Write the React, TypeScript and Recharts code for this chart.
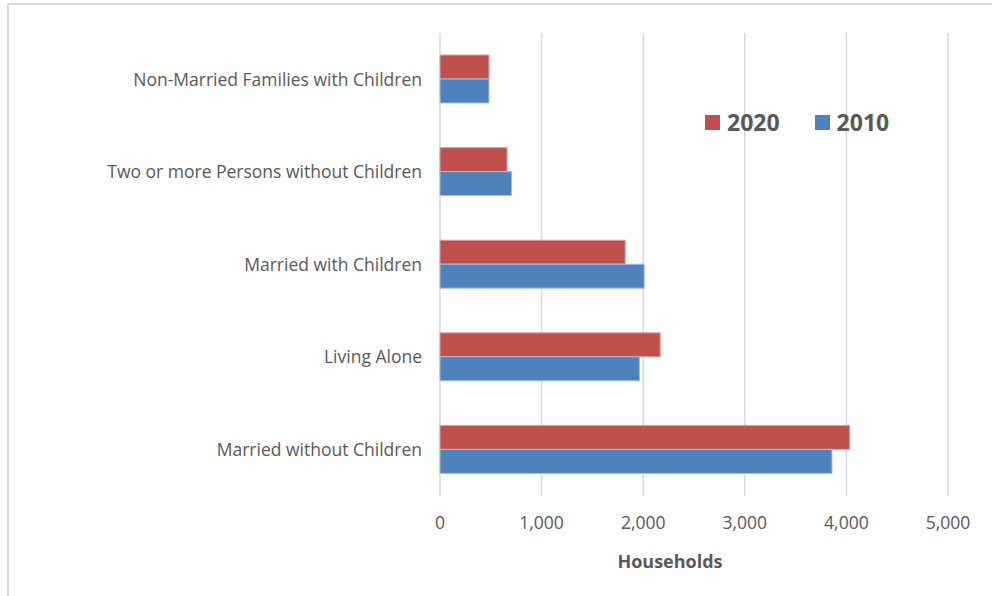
import { BarChart, Bar, XAxis, YAxis, CartesianGrid } from 'recharts'

const categories = [
  'Non-Married Families with Children',
  'Two or more Persons without Children',
  'Married with Children',
  'Living Alone',
  'Married without Children',
]
const households2020 = [482, 660, 1823, 2168, 4032]
const households2010 = [482, 705, 2010, 1964, 3858]
const xTicks = [0, 1000, 2000, 3000, 4000, 5000]

const series = [
  { key: 'y2020', label: '2020', color: '#C0504D', edge: '#dfa3a1' },
  { key: 'y2010', label: '2010', color: '#4F81BD', edge: '#a3bfe0' },
]

const data = categories.map((name, i) => ({
  name,
  y2020: households2020[i],
  y2010: households2010[i],
}))

const FONT = '"Open Sans", sans-serif'
const TEXT = '#595959'

export default function App() {
  return (
    <div style={{ position: 'absolute', left: 0, top: 0, width: 992, height: 596, background: '#fff', fontFamily: FONT, overflow: 'hidden' }}>
      <div
        style={{
          position: 'absolute',
          left: 7,
          top: 3,
          width: 1000,
          height: 620,
          border: '2px solid #d9d9d9',
        }}
      />
      <BarChart
        width={992}
        height={596}
        data={data}
        layout="vertical"
        margin={{ top: 33, right: 44, bottom: 20, left: 0 }}
        barGap={0}
        barSize={24}
        style={{ position: 'absolute', left: 0, top: 0 }}
      >
        <CartesianGrid horizontal={false} stroke="#d9d9d9" strokeWidth={1.5} />
        <XAxis
          type="number"
          domain={[0, 5000]}
          ticks={xTicks}
          tickFormatter={(v: number) => v.toLocaleString('en-US')}
          axisLine={false}
          tickLine={false}
          height={80}
          tickMargin={15}
          tick={{ fill: TEXT, fontSize: 17.5, fontFamily: FONT }}
          label={{
            value: 'Households',
            position: 'insideBottom',
            offset: 8,
            dx: -24,
            fill: TEXT,
            fontSize: 18,
            fontWeight: 700,
            fontFamily: FONT,
          }}
        />
        <YAxis
          type="category"
          dataKey="name"
          width={440}
          axisLine={false}
          tickLine={false}
          tickMargin={12}
          interval={0}
          tick={{ fill: TEXT, fontSize: 17.5, fontFamily: FONT }}
        />
        {series.map((s) => (
          <Bar
            key={s.key}
            dataKey={s.key}
            name={s.label}
            fill={s.color}
            stroke={s.edge}
            strokeWidth={1}
            isAnimationActive={false}
          />
        ))}
      </BarChart>
      <div style={{ position: 'absolute', left: 705, top: 109, display: 'flex', gap: 35 }}>
        {series.map((s) => (
          <div key={s.key} style={{ display: 'flex', alignItems: 'center', gap: 7 }}>
            <span style={{ width: 15, height: 15, background: s.color, display: 'inline-block' }} />
            <span style={{ fontSize: 23, fontWeight: 700, color: TEXT, lineHeight: '26px' }}>{s.label}</span>
          </div>
        ))}
      </div>
    </div>
  )
}
